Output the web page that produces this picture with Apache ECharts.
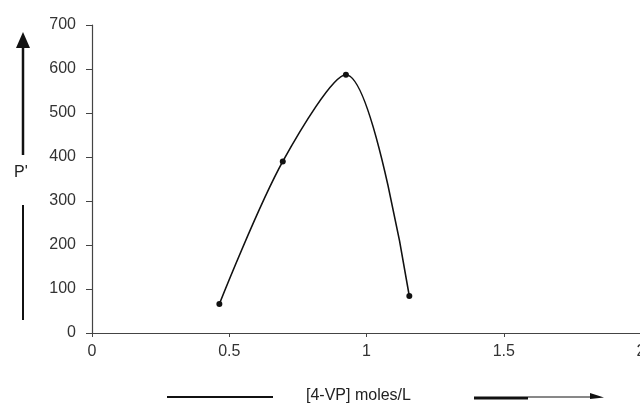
<!DOCTYPE html>
<html>
<head>
<meta charset="utf-8">
<script src="https://cdn.jsdelivr.net/npm/echarts@6/dist/echarts.min.js"></script>
<style>html,body{margin:0;padding:0;background:#fff;}#c{width:640px;height:403px;}</style>
</head>
<body>
<div id="c"></div>
<script>
var concentration = [0.464, 0.695, 0.925, 1.156];
var pValues = [66, 390, 587, 84];
var xTicks = [0, 0.5, 1, 1.5, 2];
var yTicks = [0, 100, 200, 300, 400, 500, 600, 700];
var xTitle = '[4-VP] moles/L';
var yTitle = "P'";

var chart = echarts.init(document.getElementById('c'), null, {renderer: 'canvas'});
var font = 'Liberation Sans, Arial, sans-serif';
chart.setOption({
  animation: false,
  backgroundColor: '#fff',
  grid: {left: 92, top: 25, width: 549, height: 308, containLabel: false, outerBoundsMode: 'none'},
  xAxis: {
    type: 'value', min: xTicks[0], max: xTicks[xTicks.length - 1], interval: 0.5,
    axisLine: {onZero: false, lineStyle: {color: '#444', width: 1.2}},
    axisTick: {show: true, length: 4, lineStyle: {color: '#444'}},
    splitLine: {show: false},
    axisLabel: {color: '#333', fontFamily: font, fontSize: 16, margin: 11,
      formatter: function (v) { return String(v); }}
  },
  yAxis: {
    type: 'value', min: yTicks[0], max: yTicks[yTicks.length - 1], interval: 100,
    axisLine: {show: true, lineStyle: {color: '#444', width: 1.2}},
    axisTick: {show: true, length: 6, lineStyle: {color: '#444'}},
    splitLine: {show: false},
    axisLabel: {color: '#333', fontFamily: font, fontSize: 16, margin: 16}
  },
  series: [{
    type: 'line',
    data: concentration.map(function (x, i) { return [x, pValues[i]]; }),
    smooth: 0.32,
    symbol: 'circle', symbolSize: 6,
    itemStyle: {color: '#111'},
    lineStyle: {color: '#111', width: 1.6}
  }],
  graphic: [
    {type: 'text', left: 306, top: 388, style: {text: xTitle, font: '16px ' + font, fill: '#222'}},
    {type: 'line', shape: {x1: 167, y1: 397, x2: 273, y2: 397}, style: {stroke: '#111', lineWidth: 2}},
    {type: 'line', shape: {x1: 474, y1: 398, x2: 528, y2: 398}, style: {stroke: '#111', lineWidth: 3}},
    {type: 'line', shape: {x1: 528, y1: 397, x2: 592, y2: 397}, style: {stroke: '#111', lineWidth: 1}},
    {type: 'polygon', shape: {points: [[590, 393], [604, 397.5], [590, 399]]}, style: {fill: '#111'}},
    {type: 'line', shape: {x1: 23, y1: 48, x2: 23, y2: 155}, style: {stroke: '#111', lineWidth: 2.5}},
    {type: 'polygon', shape: {points: [[16, 48], [23, 32], [30, 48]]}, style: {fill: '#111'}},
    {type: 'line', shape: {x1: 23, y1: 205, x2: 23, y2: 320}, style: {stroke: '#111', lineWidth: 2}},
    {type: 'text', left: 14, top: 165, style: {text: yTitle, font: '16px ' + font, fill: '#222'}}
  ]
});
</script>
</body>
</html>
